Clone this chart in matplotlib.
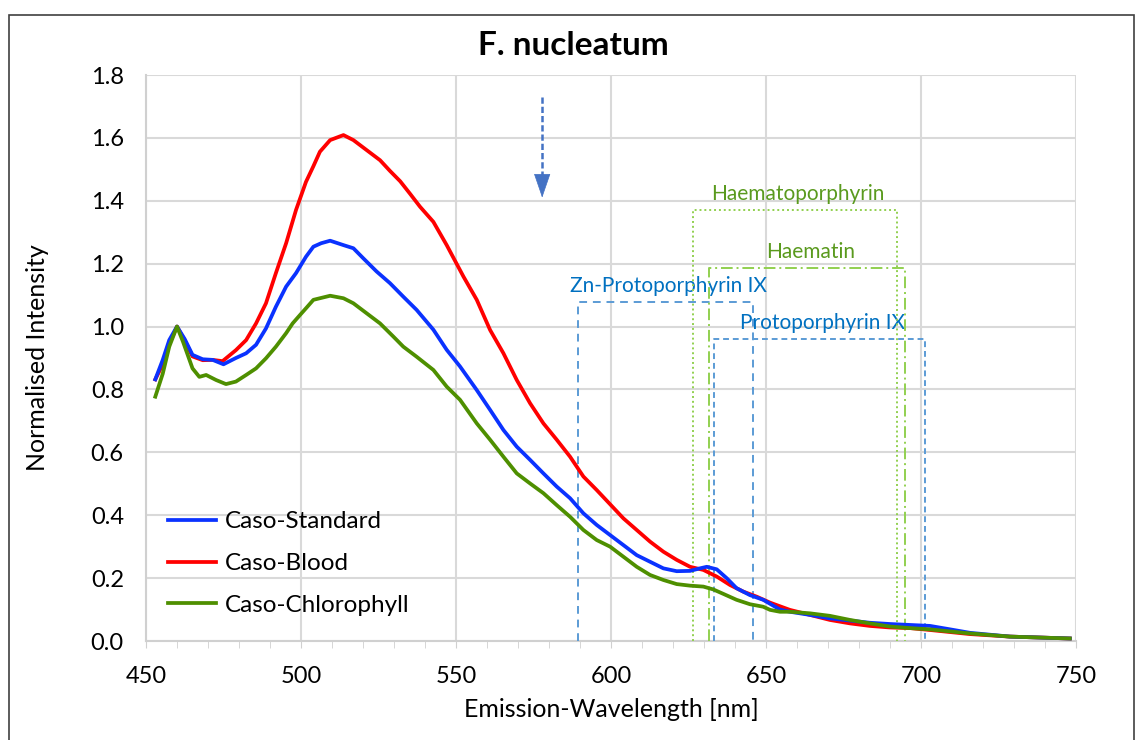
import matplotlib
matplotlib.use('Agg')
import matplotlib.pyplot as plt
from matplotlib.patches import Rectangle
from matplotlib.ticker import MultipleLocator, FormatStrFormatter

plt.rcParams['font.family'] = ['Lato', 'DejaVu Sans']

# - - - - - - - - - - - - - - - - - - - - - - - - - - - - - - - - - - - - - - - #
# datos

nm_standard = [453, 455.4, 457.5, 460, 462.5, 465, 468.3, 471.5, 475, 479, 482.3, 485.5,
               488.7, 491.9, 495.2, 498.4, 501.6, 504, 506.5, 509.4, 513.7, 516.9, 520.1,
               524.4, 528.7, 533, 537.3, 542.7, 547, 551.3, 556.7, 561, 565.3, 569.6,
               573.9, 578.2, 582.5, 586.8, 591.1, 595.4, 599.7, 604, 608.3, 612.6, 616.9,
               621.2, 625.5, 628.7, 630.9, 634.1, 637.3, 640.5, 644.8, 649.1, 654.5,
               657.7, 664.2, 670.6, 677.1, 683.5, 690, 696.5, 702.9, 709.4, 715.8,
               728.7, 748]
standard = [0.832, 0.894, 0.957, 1.0, 0.96, 0.91, 0.896, 0.894, 0.88, 0.90, 0.915, 0.942,
            0.994, 1.063, 1.127, 1.17, 1.222, 1.254, 1.265, 1.273, 1.259, 1.249, 1.217,
            1.175, 1.138, 1.095, 1.053, 0.99, 0.926, 0.873, 0.798, 0.735, 0.671, 0.618,
            0.576, 0.533, 0.491, 0.454, 0.406, 0.369, 0.337, 0.305, 0.273, 0.252, 0.231,
            0.222, 0.223, 0.231, 0.236, 0.228, 0.2, 0.168, 0.146, 0.131, 0.100,
            0.093, 0.083, 0.072, 0.065, 0.058, 0.054, 0.051, 0.048, 0.037, 0.026,
            0.014, 0.008]

nm_blood = [453, 455.4, 457.5, 460, 462.5, 465, 468.3, 471.5, 474.7, 479, 482.3, 485.5,
            488.7, 491.9, 495.2, 498.4, 501.6, 504, 506.1, 509.4, 513.7, 516.9, 521.2,
            525.5, 528.7, 532, 535.2, 538.4, 542.7, 547, 552.4, 556.7, 561, 565.3,
            569.6, 573.9, 578.2, 582.5, 586.8, 591.1, 595.4, 599.7, 604, 608.3, 612.6,
            616.9, 621.2, 625.5, 629.8, 634.1, 638.4, 642.7, 647, 651.3, 657.7, 664.2,
            670.6, 677.1, 683.5, 690, 696.5, 702.9, 715.8, 728.7, 748]
blood = [0.832, 0.88, 0.945, 1.0, 0.955, 0.905, 0.893, 0.894, 0.89, 0.925, 0.957, 1.010,
         1.074, 1.17, 1.265, 1.371, 1.46, 1.51, 1.556, 1.593, 1.609, 1.593, 1.561,
         1.529, 1.495, 1.462, 1.422, 1.381, 1.333, 1.259, 1.159, 1.085, 0.989, 0.915,
         0.83, 0.756, 0.692, 0.64, 0.586, 0.523, 0.48, 0.435, 0.39, 0.353, 0.316,
         0.284, 0.258, 0.236, 0.226, 0.205, 0.178, 0.157, 0.141, 0.122, 0.099, 0.083,
         0.067, 0.056, 0.048, 0.043, 0.041, 0.035, 0.022, 0.014, 0.008]

nm_chloro = [453, 455.4, 457.5, 460, 462, 465, 467.2, 469.4, 472.6, 475.8, 479, 482.3,
             485.5, 488.7, 491.9, 495.2, 497.3, 499.7, 501.6, 504, 509.4, 513.7, 516.9,
             521.2, 525.5, 529.8, 533, 537.3, 542.7, 547, 551.3, 556.7, 561, 565.3,
             569.6, 573.9, 578.2, 582.5, 586.8, 591.1, 595.4, 599.7, 604, 608.3, 612.6,
             616.9, 621.2, 625.5, 629.8, 633, 636.2, 640.5, 644.8, 649.1, 651.3, 654.5,
             657.7, 664.2, 670.6, 677.1, 683.5, 690, 696.5, 702.9, 715.8, 728.7, 748]
chloro = [0.777, 0.85, 0.936, 1.0, 0.95, 0.867, 0.84, 0.846, 0.83, 0.817, 0.825, 0.846,
          0.867, 0.899, 0.936, 0.979, 1.01, 1.037, 1.058, 1.085, 1.098, 1.09, 1.074,
          1.042, 1.01, 0.968, 0.936, 0.904, 0.862, 0.809, 0.767, 0.692, 0.64, 0.586,
          0.533, 0.501, 0.470, 0.432, 0.395, 0.353, 0.321, 0.3, 0.268, 0.236, 0.21,
          0.194, 0.181, 0.176, 0.173, 0.164, 0.15, 0.131, 0.117, 0.109, 0.099, 0.093,
          0.093, 0.088, 0.08, 0.067, 0.056, 0.046, 0.041, 0.037, 0.024, 0.014, 0.008]

# rangos de emision de porfirinas: nombre, inicio, fin, altura
rangos = ['Zn-Protoporphyrin IX', 'Protoporphyrin IX', 'Haematoporphyrin', 'Haematin']
rango_ini = [589.5, 633.2, 626.5, 631.7]
rango_fin = [645.7, 701.4, 692.3, 694.8]
rango_top = [1.078, 0.96, 1.371, 1.186]

flecha_nm = 577.8
flecha_y = [1.73, 1.41]

# - - - - - - - - - - - - - - - - - - - - - - - - - - - - - - - - - - - - - - - #
# Grafica

fig = plt.figure(figsize=(11.43, 7.40), dpi=100)
ax = fig.add_axes([146 / 1143, 1 - 641 / 740, 930 / 1143, 566 / 740])

ax.plot(nm_standard, standard, color='#0A32FF', lw=2.7, label='Caso-Standard', zorder=5)
ax.plot(nm_blood, blood, color='#FF0000', lw=2.7, label='Caso-Blood', zorder=4)
ax.plot(nm_chloro, chloro, color='#4E8F00', lw=2.7, label='Caso-Chlorophyll', zorder=6)

# cajas de rangos
estilos = [(0, (4, 3)), (0, (3, 2)), (0, (1, 1.5)), (0, (6, 2, 1, 2))]
colores = ['#5B9BD5', '#5B9BD5', '#92D050', '#92D050']
col_txt = ['#0070C0', '#0070C0', '#5A9A1E', '#5A9A1E']
for i in range(len(rangos)):
    ax.plot([rango_ini[i], rango_ini[i], rango_fin[i], rango_fin[i]],
            [0, rango_top[i], rango_top[i], 0],
            ls=estilos[i], color=colores[i], lw=1.4, zorder=3)
    ax.text((rango_ini[i] + rango_fin[i]) / 2 + 1, rango_top[i] + 0.018, rangos[i],
            color=col_txt[i], fontsize=15, ha='center', va='bottom')

# flecha
ax.plot([flecha_nm, flecha_nm], [flecha_y[0], flecha_y[1] + 0.07],
        ls=(0, (2.5, 1.2)), color='#4472C4', lw=1.8)
ax.annotate('', xy=(flecha_nm, flecha_y[1]), xytext=(flecha_nm, flecha_y[1] + 0.076),
            arrowprops=dict(arrowstyle='-|>,head_length=1.6,head_width=0.55',
                            color='#4472C4', lw=0.5, shrinkA=0, shrinkB=0))

# Ejes
ax.set_xlim(450, 750)
ax.set_ylim(0, 1.8)
ax.xaxis.set_major_locator(MultipleLocator(50))
ax.xaxis.set_minor_locator(MultipleLocator(10))
ax.yaxis.set_major_locator(MultipleLocator(0.2))
ax.yaxis.set_major_formatter(FormatStrFormatter('%.1f'))
ax.grid(True, color='#D9D9D9', lw=1.5)
ax.set_axisbelow(True)
for s in ['top', 'right']:
    ax.spines[s].set_visible(False)
for s in ['left', 'bottom']:
    ax.spines[s].set_color('#D0D0D0')
    ax.spines[s].set_linewidth(1.5)
ax.tick_params(axis='x', which='both', direction='out', length=5, color='#D0D0D0',
               labelsize=17, pad=13)
ax.tick_params(axis='y', which='both', length=0, labelsize=17, pad=16)

ax.set_xlabel('Emission-Wavelength [nm]', fontsize=18, labelpad=8)
ax.set_ylabel('Normalised Intensity', fontsize=18, labelpad=30)
fig.suptitle('F. nucleatum', fontsize=24, fontweight='bold', x=0.502, y=0.958)

ax.legend(loc='lower left', bbox_to_anchor=(0.0, 0.006), frameon=False, fontsize=17.5,
          handlelength=2.0, handletextpad=0.35, labelspacing=0.85)

# marco de la figura
fig.patches.append(Rectangle((9 / 1143, -0.01), 1125 / 1143, 1 - 15 / 740 + 0.01,
                             transform=fig.transFigure, fill=False,
                             edgecolor='#404040', lw=1.2))

plt.savefig('out.png', dpi=100)
